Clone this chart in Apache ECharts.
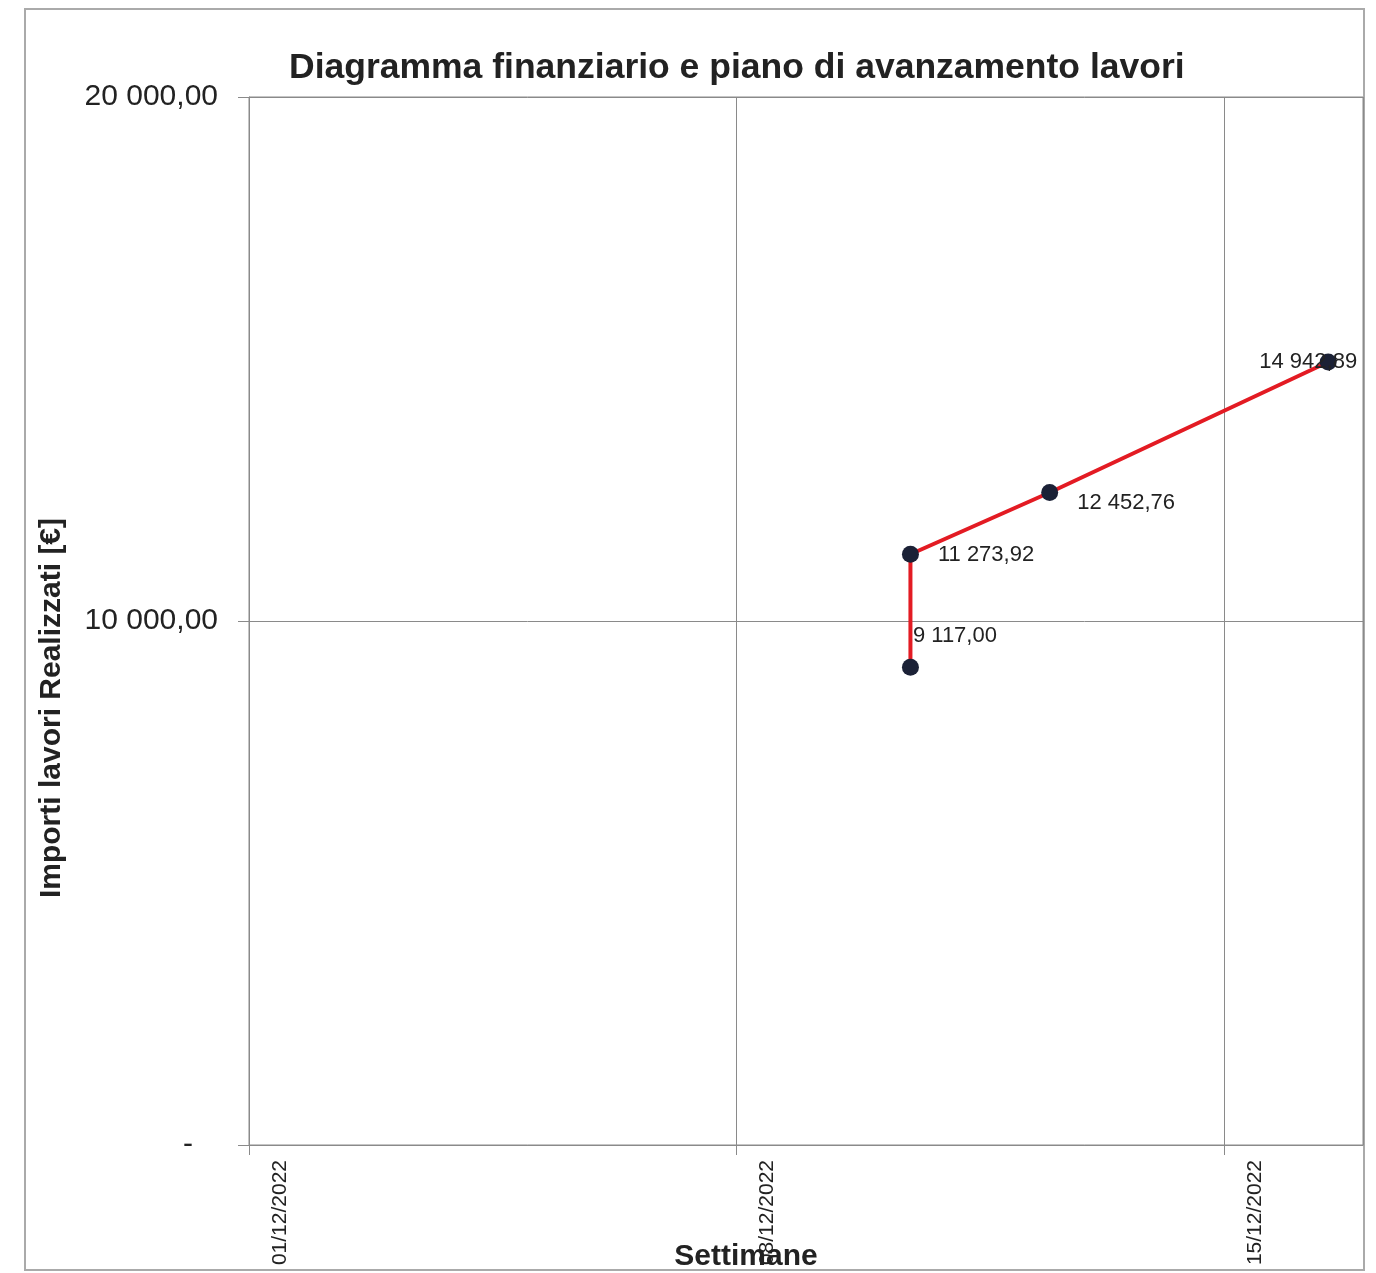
<!DOCTYPE html>
<html>
<head>
<meta charset="utf-8">
<script src="https://cdn.jsdelivr.net/npm/echarts@6/dist/echarts.min.js"></script>
<style>
html,body{margin:0;padding:0;background:#fff;}
#chart{width:1376px;height:1273px;}
</style>
</head>
<body>
<div id="chart"></div>
<script>
// ---- data ----
var axisStartDate = '01/12/2022';
var axisDays = 16;            // axis spans 01/12/2022 .. 17/12/2022
var tickDays = 7;             // weekly ticks
var pointDates = ['10/12/2022', '10/12/2022', '12/12/2022', '16/12/2022'];
var pointValues = [9117.00, 11273.92, 12452.76, 14942.89];
var yMin = 0, yMax = 20000, yStep = 10000;

function parseIt(s){ var p = s.split('/'); return new Date(+p[2], +p[1]-1, +p[0]); }
var t0 = parseIt(axisStartDate).getTime();
function dayIndex(s){ return Math.round((parseIt(s).getTime() - t0) / 86400000); }
function fmtDate(d){
  var dt = new Date(t0 + d * 86400000);
  var dd = ('0' + dt.getDate()).slice(-2), mm = ('0' + (dt.getMonth()+1)).slice(-2);
  return dd + '/' + mm + '/' + dt.getFullYear();
}
function fmtIt(v){
  var s = v.toFixed(2).split('.');
  return s[0].replace(/\B(?=(\d{3})+(?!\d))/g, ' ') + ',' + s[1];
}
// Excel date axis "between tick marks": each day's point sits mid-slot
var seriesData = pointDates.map(function(d, i){ return [dayIndex(d) + 0.5, pointValues[i]]; });

var labelCfg = [
  {position: 'right', offset: [-11, -31]},
  {position: 'right', offset: [14, 1]},
  {position: 'right', offset: [14, 10]},
  {position: 'inside', offset: [-20, 0]}
];

var chart = echarts.init(document.getElementById('chart'));
var txt = '#222';
var gridCol = '#8a8a8a';
chart.setOption({
  backgroundColor: '#fff',
  animation: false,
  title: {
    text: 'Diagramma finanziario e piano di avanzamento lavori',
    left: 284, top: 45,
    textStyle: {fontFamily: 'Liberation Sans, Arial, sans-serif', fontSize: 35.5, fontWeight: 'bold', color: txt}
  },
  graphic: [{
    type: 'rect', shape: {x: 25, y: 9, width: 1339, height: 1261},
    style: {fill: 'none', stroke: '#aaa', lineWidth: 2}, silent: true, z: -1
  }],
  grid: {left: 249, top: 97, right: 13, bottom: 128, outerBoundsMode: 'none', containLabel: false,
    show: true, borderColor: gridCol, borderWidth: 1, backgroundColor: 'transparent'},
  xAxis: {
    type: 'value', min: 0, max: axisDays, interval: tickDays,
    name: 'Settimane', nameLocation: 'middle', nameGap: 97, nameMoveOverlap: false,
    nameTextStyle: {fontFamily: 'Liberation Sans Narrow, Liberation Sans, Arial, sans-serif', fontSize: 30, fontWeight: 'bold', color: txt, padding: [0, 120, 0, 0]},
    axisLine: {show: true, onZero: false, lineStyle: {color: gridCol, width: 1}},
    axisTick: {show: true, inside: false, length: 10, lineStyle: {color: gridCol}},
    splitLine: {show: true, lineStyle: {color: gridCol, width: 1}},
    axisLabel: {
      rotate: 90, margin: 15, fontSize: 21, color: txt,
      fontFamily: 'Liberation Sans Narrow, Liberation Sans, Arial, sans-serif',
      verticalAlign: 'top', lineHeight: 62,
      showMaxLabel: false,
      formatter: function(v){ return fmtDate(v); }
    }
  },
  yAxis: {
    type: 'value', min: yMin, max: yMax, interval: yStep,
    name: 'Importi lavori Realizzati [€]', nameLocation: 'middle', nameGap: 182, nameRotate: 90,
    nameTextStyle: {fontFamily: 'Liberation Sans, Arial, sans-serif', fontSize: 30, fontWeight: 'bold', color: txt, padding: [0, 174, 0, 0]},
    axisLine: {show: true, lineStyle: {color: gridCol, width: 1}},
    axisTick: {show: true, inside: false, length: 11, lineStyle: {color: gridCol}},
    splitLine: {show: true, lineStyle: {color: gridCol, width: 1}},
    axisLabel: {
      margin: 31, fontSize: 30, color: txt, fontFamily: 'Liberation Sans, Arial, sans-serif',
      formatter: function(v){ return v === 0 ? '{z|-}' : fmtIt(v); },
      rich: {z: {fontSize: 30, color: txt, padding: [0, 25, 0, 0]}}
    }
  },
  series: [{
    type: 'line',
    data: seriesData.map(function(p, i){
      return {value: p, label: {show: true, position: labelCfg[i].position, offset: labelCfg[i].offset}};
    }),
    lineStyle: {color: '#e31b23', width: 4},
    symbol: 'circle', symbolSize: 17,
    itemStyle: {color: '#1b2136'},
    label: {
      show: true, fontSize: 22, color: txt, fontFamily: 'Liberation Sans, Arial, sans-serif',
      formatter: function(p){ return fmtIt(p.value[1]); }
    },
    z: 3
  }]
});
</script>
</body>
</html>
